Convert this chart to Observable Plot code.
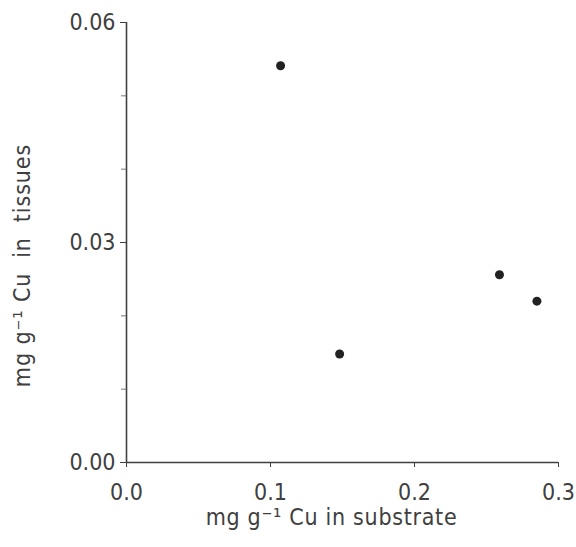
<!DOCTYPE html>
<html>
<head>
<meta charset="utf-8">
<script src="https://cdn.jsdelivr.net/npm/d3@7"></script>
<script src="https://cdn.jsdelivr.net/npm/@observablehq/plot@0.6"></script>
<style>
  html, body { margin: 0; padding: 0; background: #fff; }
  #chart svg { display: block; }
</style>
</head>
<body>
<div id="chart"></div>
<script>
// Data
const substrateCu = [0.107, 0.148, 0.259, 0.285];   // mg g-1 Cu in substrate (x)
const tissueCu    = [0.0541, 0.0148, 0.0256, 0.0220]; // mg g-1 Cu in tissues (y)

const xTicks = [0, 0.1, 0.2, 0.3];
const xTickLabels = ["0.0", "0.1", "0.2", "0.3"];
const yTicks = [0, 0.03, 0.06];
const yTickLabels = ["0.00", "0.03", "0.06"];
const yMinorTicks = [0.01, 0.02, 0.04, 0.05];

const xLabel = "mg g\u207B\u00B9 Cu in substrate";
const yLabel = "mg g\u207B\u00B9 Cu  in  tissues";

const points = substrateCu.map((x, i) => ({x, y: tissueCu[i]}));

const ink = "#404040";
const font = "'Liberation Sans Narrow', 'DejaVu Sans Condensed', 'Liberation Sans', sans-serif";

const chart = Plot.plot({
  width: 576,
  height: 547,
  marginLeft: 126,
  marginRight: 18,
  marginTop: 22,
  marginBottom: 85,
  style: {fontFamily: font, fontSize: "23px", color: ink, background: "#fff"},
  x: {domain: [0, 0.3]},
  y: {domain: [0, 0.06]},
  marks: [
    Plot.ruleX([0], {stroke: ink, strokeWidth: 1.6}),
    Plot.ruleY([0], {stroke: ink, strokeWidth: 1.6}),
    Plot.axisX({
      ticks: xTicks,
      tickFormat: d => xTickLabels[xTicks.indexOf(d)],
      tickSize: 5,
      tickPadding: 16,
      label: null,
      stroke: ink,
      fill: ink,
      fontSize: 23
    }),
    Plot.axisY({
      ticks: yTicks,
      tickFormat: d => yTickLabels[yTicks.indexOf(d)],
      tickSize: 6,
      tickPadding: 5,
      label: null,
      stroke: ink,
      fill: ink,
      fontSize: 23
    }),
    Plot.axisY({
      ticks: yMinorTicks,
      tickSize: 5,
      text: null,
      label: null,
      stroke: "#777"
    }),
    Plot.dot(points, {x: "x", y: "y", r: 4.5, fill: "#222", stroke: "none"}),
    Plot.text([xLabel], {
      text: d => d, frameAnchor: "bottom", dx: -11, dy: 62,
      fontSize: 23, fill: ink, textAnchor: "middle"
    }),
    Plot.text([yLabel], {
      text: d => d, frameAnchor: "left", dx: -104, dy: 23, rotate: -90,
      fontSize: 23, fill: ink, textAnchor: "middle"
    })
  ]
});

d3.select(chart).selectAll("text")
  .filter(function() { return this.textContent === xLabel; })
  .style("letter-spacing", "0.7px");
d3.select(chart).selectAll("text")
  .filter(function() { return this.textContent === yLabel; })
  .style("letter-spacing", "0.9px")
  .style("white-space", "pre");

document.getElementById("chart").appendChild(chart);
</script>
</body>
</html>
